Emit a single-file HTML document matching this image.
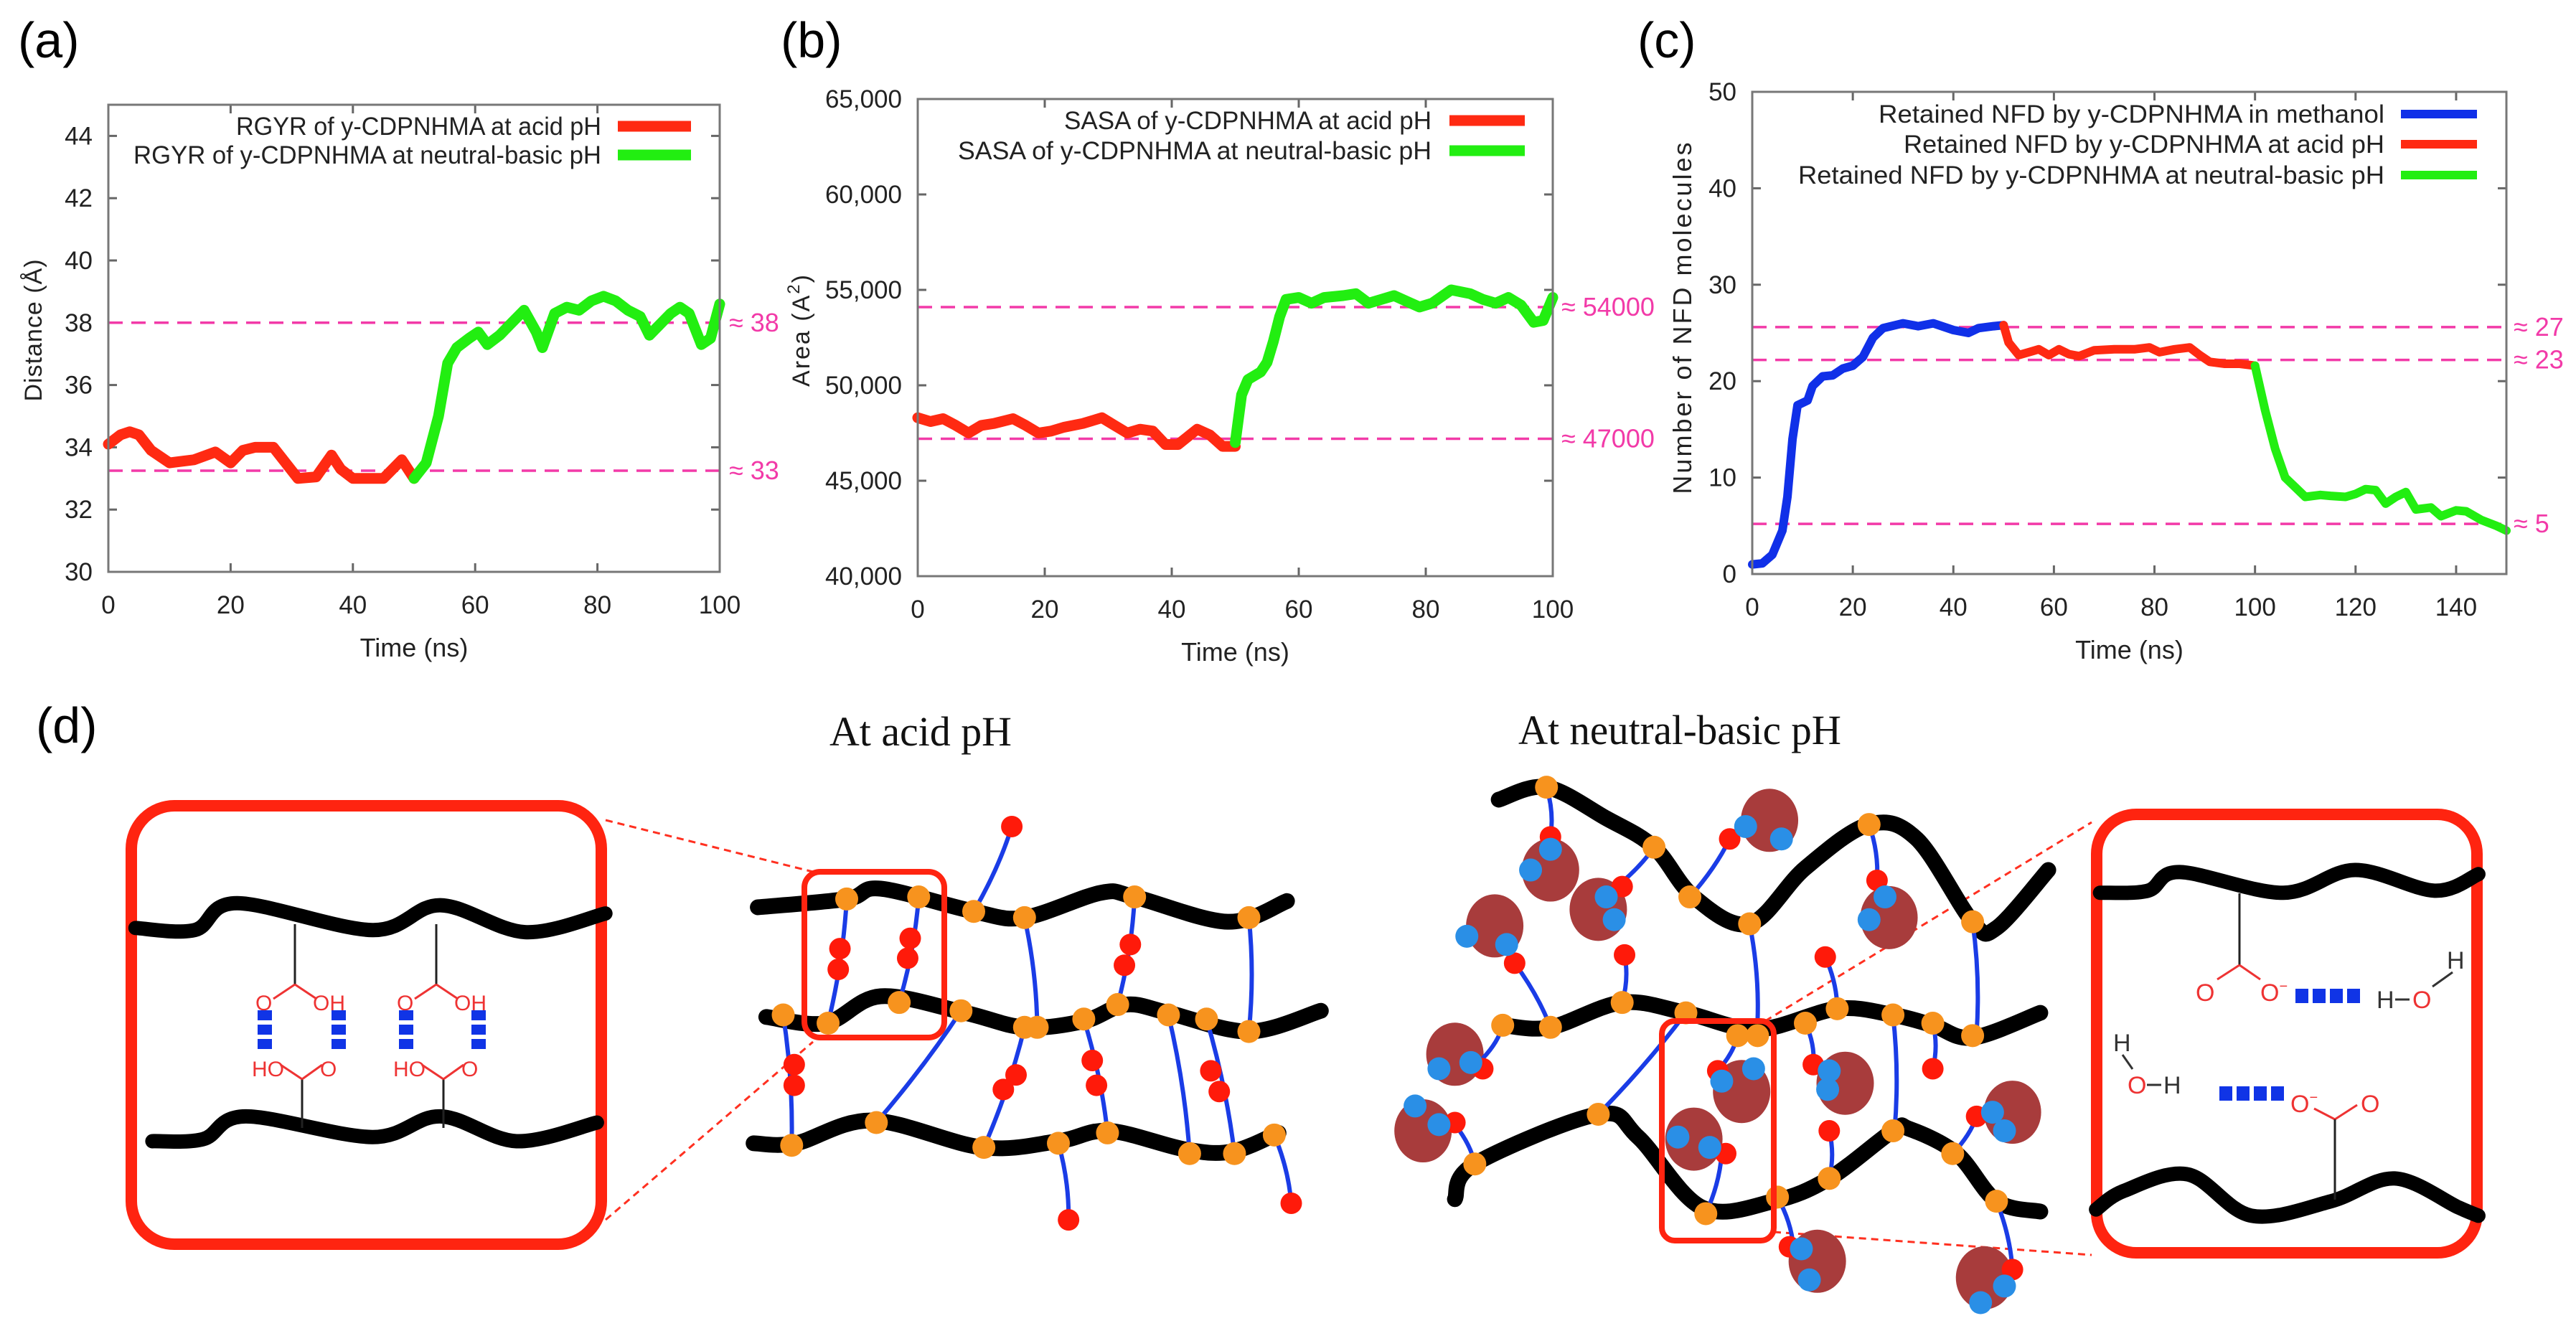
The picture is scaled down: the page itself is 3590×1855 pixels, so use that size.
<!DOCTYPE html>
<html><head><meta charset="utf-8"><style>
html,body{margin:0;padding:0;background:#fff}
svg{display:block}
text{font-family:"Liberation Sans",sans-serif}
</style></head><body>
<svg id="fig" width="3590" height="1855" viewBox="0 0 3590 1855" xmlns="http://www.w3.org/2000/svg">
<rect width="3590" height="1855" fill="#fff"/>
<text x="25" y="80" font-size="70">(a)</text>
<text x="1088" y="80" font-size="70">(b)</text>
<text x="2282" y="80" font-size="70">(c)</text>
<text x="50" y="1035" font-size="70">(d)</text>
<g id="charts"></g>
<g id="diagram"></g>
</svg>
<script>
// ---- Panel (a) data ----
const aRedT = [0,2,3.5,5,7,10,14,17.5,20,22,24,27,29,31,34,36.5,38,40,45,48,50];
const aRedV = [34.1,34.4,34.5,34.4,33.9,33.5,33.6,33.85,33.5,33.9,34.0,34.0,33.5,33.0,33.05,33.75,33.3,33.0,33.0,33.6,33.0];
const aGreenT = [50,52,54,55.5,57,59,60.5,62,64,66,68,70,71,73,75,77,79,81,83,85,87,88.5,90,92,93.5,95,97,98.5,100];
const aGreenV = [33.0,33.5,35.0,36.7,37.2,37.5,37.7,37.3,37.6,38.0,38.4,37.7,37.2,38.3,38.5,38.4,38.7,38.85,38.7,38.4,38.2,37.6,37.9,38.3,38.5,38.3,37.3,37.5,38.6];
const aXTicks = [0,20,40,60,80,100];
const aYTicks = [30,32,34,36,38,40,42,44];
const aRefs = [38,33.25];
const aRefLabels = ["≈ 38","≈ 33"];
const aLegend = ["RGYR of y-CDPNHMA at acid pH","RGYR of y-CDPNHMA at neutral-basic pH"];
// ---- Panel (b) data ----
const bRedT = [0,2,4,6,8,10,12,15,17,19,21,23,26,29,31,33,35,37,39,41,44,46,48,50];
const bRedV = [48300,48100,48250,47900,47500,47900,48000,48250,47900,47500,47600,47800,48000,48300,47900,47500,47700,47600,46900,46900,47700,47400,46800,46800];
const bGreenT = [50,51,52,54,55,56,57,58,60,62,64,67,69,71,73,75,77,79,81,84,87,89,91,93,95,97,98.5,100];
const bGreenV = [47000,49500,50300,50700,51200,52300,53600,54500,54600,54300,54600,54700,54800,54300,54500,54700,54400,54100,54300,55000,54800,54500,54300,54600,54200,53300,53400,54600];
const bXTicks = [0,20,40,60,80,100];
const bYTicks = [40000,45000,50000,55000,60000,65000];
const bRefs = [54100,47200];
const bRefLabels = ["≈ 54000","≈ 47000"];
const bLegend = ["SASA of y-CDPNHMA at acid pH","SASA of y-CDPNHMA at neutral-basic pH"];
// ---- Panel (c) data ----
const cBlueT = [0,2,4,6,7,8,9,11,12,14,16,18,20,22,24,26,30,33,36,40,43,45,48,50];
const cBlueV = [1,1.1,2,4.5,8,14,17.5,18,19.5,20.5,20.6,21.3,21.6,22.5,24.5,25.5,26,25.7,26,25.3,25,25.5,25.7,25.8];
const cRedT = [50,51,53,55,57,59,61,63,65,68,72,76,79,81,84,87,89,91,94,97,100];
const cRedV = [25.8,24,22.7,23,23.3,22.7,23.3,22.8,22.6,23.2,23.3,23.3,23.5,23,23.3,23.5,22.7,22,21.8,21.8,21.6];
const cGreenT = [100,102,104,106,108,110,113,115,118,120,122,124,126,128,130,132,135,137,140,142,145,148,150];
const cGreenV = [21.6,17,13,10,9,8,8.2,8.1,8,8.3,8.8,8.7,7.3,8,8.5,6.7,6.9,6,6.6,6.5,5.6,5,4.5];
const cXTicks = [0,20,40,60,80,100,120,140];
const cYTicks = [0,10,20,30,40,50];
const cRefs = [25.6,22.2,5.2];
const cRefLabels = ["≈ 27","≈ 23","≈ 5"];
const cLegend = ["Retained NFD by y-CDPNHMA in methanol","Retained NFD by y-CDPNHMA at acid pH","Retained NFD by y-CDPNHMA at neutral-basic pH"];

const NS="http://www.w3.org/2000/svg";
const RED="#ff2a12", GREEN="#22ee11", BLUE="#1030e8", PINK="#f23aa8";
function mk(tag,attrs,parent){const e=document.createElementNS(NS,tag);for(const k in attrs)e.setAttribute(k,attrs[k]);parent.appendChild(e);return e;}

function chart(id,box,xd,yd,xticks,yticks,fmt,series,refs,refLabels,legend,leg,ytitle,ytx,yty,refLabelX,lw){
  const root=document.getElementById('charts');
  const g=mk('g',{},root);
  
  
  const X=v=>box.l+(v-xd[0])/(xd[1]-xd[0])*(box.r-box.l);
  const Y=v=>box.b-(v-yd[0])/(yd[1]-yd[0])*(box.b-box.t);
  xticks.forEach(t=>{
    mk('line',{x1:X(t),x2:X(t),y1:box.b,y2:box.b-12,stroke:'#666','stroke-width':3},g);
    mk('line',{x1:X(t),x2:X(t),y1:box.t,y2:box.t+12,stroke:'#666','stroke-width':3},g);
    const tx=mk('text',{x:X(t),y:box.b+58,'font-size':35,'text-anchor':'middle',fill:'#222'},g);
    tx.textContent=t;
    
    
  });
  yticks.forEach(t=>{
    mk('line',{x1:box.l,x2:box.l+12,y1:Y(t),y2:Y(t),stroke:'#666','stroke-width':3},g);
    mk('line',{x1:box.r,x2:box.r-12,y1:Y(t),y2:Y(t),stroke:'#666','stroke-width':3},g);
    const tx=mk('text',{x:box.l-22,y:Y(t)+12,'font-size':35,'text-anchor':'end',fill:'#222'},g);
    tx.textContent=fmt(t);
    
    
  });
  refs.forEach((r,i)=>{
    const l=mk('line',{x1:box.l,x2:box.r,y1:Y(r),y2:Y(r),stroke:PINK,'stroke-width':3.5,'stroke-dasharray':'20 12'},g);
    
    
    const tx=mk('text',{x:refLabelX,y:Y(r)+12,'font-size':36,fill:PINK},g);
    tx.textContent=refLabels[i];
    
    
  });
  series.forEach(s=>{
    const d=s.t.map((t,i)=>(i?'L':'M')+X(t).toFixed(1)+','+Y(s.v[i]).toFixed(1)).join(' ');
    const p=mk('path',{d:d,fill:'none',stroke:s.c,'stroke-width':lw,'stroke-linejoin':'round','stroke-linecap':'round'},g);
    
    
  });
  const fr=mk('rect',{x:box.l,y:box.t,width:box.r-box.l,height:box.b-box.t,fill:'none',stroke:'#777','stroke-width':3},g);
  
  
  legend.forEach((txt,i)=>{
    const y=leg.y[i];
    const tx=mk('text',{x:leg.tr,y:y+12,'font-size':35,'text-anchor':'end',fill:'#222',textLength:leg.w[i],lengthAdjust:'spacingAndGlyphs'},g);
    tx.textContent=txt;
    
    
    const ln=mk('line',{x1:leg.l1,x2:leg.l2,y1:y,y2:y,stroke:series[i].c,'stroke-width':lw},g);
    
    
  });
  const tt=mk('text',{x:(box.l+box.r)/2,y:box.b+118,'font-size':36,'text-anchor':'middle',fill:'#222'},g);
  tt.textContent='Time (ns)';
  
  
  const yt=mk('text',{x:ytx,y:yty,'font-size':ytitle.fs,'text-anchor':'middle',fill:'#222',transform:`rotate(-90 ${ytx} ${yty})`,'letter-spacing':ytitle.ls},g);
  yt.innerHTML=ytitle.html;
  
  
}
chart('chart-a',{l:151,r:1003,t:146,b:797},[0,100],[30,45],aXTicks,aYTicks,v=>v,
  [{t:aRedT,v:aRedV,c:RED,name:'series-acid'},{t:aGreenT,v:aGreenV,c:GREEN,name:'series-neutral-basic'}],
  aRefs,aRefLabels,aLegend,{y:[176,216],tr:838,w:[509,652],l1:861,l2:963},
  {html:'Distance (Å)',fs:34,ls:1},58,460,1016,15);
chart('chart-b',{l:1279,r:2164,t:138,b:803},[0,100],[40000,65000],bXTicks,bYTicks,v=>v.toLocaleString('en-US'),
  [{t:bRedT,v:bRedV,c:RED,name:'series-acid'},{t:bGreenT,v:bGreenV,c:GREEN,name:'series-neutral-basic'}],
  bRefs,bRefLabels,bLegend,{y:[168,210],tr:1995,w:[512,660],l1:2020,l2:2125},
  {html:'Area (A<tspan dy="-14" font-size="24">2</tspan><tspan dy="14">)</tspan>',fs:34,ls:2},1128,460,2176,15);
chart('chart-c',{l:2442,r:3493,t:128,b:800},[0,150],[0,50],cXTicks,cYTicks,v=>v,
  [{t:cBlueT,v:cBlueV,c:BLUE,name:'series-methanol'},{t:cRedT,v:cRedV,c:RED,name:'series-acid'},{t:cGreenT,v:cGreenV,c:GREEN,name:'series-neutral-basic'}],
  cRefs,cRefLabels,cLegend,{y:[159,201,244],tr:3323,w:[705,670,817],l1:3346,l2:3452},
  {html:'Number of NFD molecules',fs:36,ls:3},2357,442,3503,12);

// ---- Diagram (d) ----
const D=document.getElementById('diagram');
function smooth(pts){let d='M'+pts[0][0]+','+pts[0][1];for(let i=0;i<pts.length-1;i++){const p0=pts[i-1]||pts[i],p1=pts[i],p2=pts[i+1],p3=pts[i+2]||p2;
 d+=` C${p1[0]+(p2[0]-p0[0])/6},${p1[1]+(p2[1]-p0[1])/6} ${p2[0]-(p3[0]-p1[0])/6},${p2[1]-(p3[1]-p1[1])/6} ${p2[0]},${p2[1]}`;}return d;}
function tf(ox,sx,oy,sy){return p=>[ox+p[0]*sx,oy+p[1]*sy];}
const A=tf(0,1.18,950,0.577), N=tf(1850,1.11,950,0.577);
function chain(pts,T,name,w){const p=mk('path',{d:smooth(pts.map(T)),fill:'none',stroke:'#000','stroke-width':w||22,'stroke-linecap':'round'},D);}
function link(a,b,T){const P=T(a),Q=T(b);const mx=(P[0]+Q[0])/2+8,my=(P[1]+Q[1])/2;mk('path',{d:`M${P[0]},${P[1]} Q${mx},${my} ${Q[0]},${Q[1]}`,fill:'none',stroke:'#1a3ce6','stroke-width':6},D);}
function dot(p,T,c,r,name){const P=T(p);const e=mk('circle',{cx:P[0],cy:P[1],r:r,fill:c},D);}
// titles
let t=mk('text',{x:1156,y:1039,'font-size':58,style:'font-family:"Liberation Serif",serif',fill:'#111',textLength:254,lengthAdjust:'spacingAndGlyphs'},D);t.textContent='At acid pH';


t=mk('text',{x:2116,y:1037,'font-size':58,style:'font-family:"Liberation Serif",serif',fill:'#111',textLength:450,lengthAdjust:'spacingAndGlyphs'},D);t.textContent='At neutral-basic pH';


// dashed zoom lines
[[844,1143,1133,1215],[844,1700,1133,1452],[2460,1423,2915,1146],[2472,1717,2915,1749]].forEach(l=>mk('line',{x1:l[0],y1:l[1],x2:l[2],y2:l[3],stroke:'#ff3020','stroke-width':3,'stroke-dasharray':'10 7'},D));
// acid network
chain([[895,545],[1000,525],[1040,500],[1150,555],[1210,570],[1300,510],[1340,520],[1450,580],[1520,530]],A,'acid-chain-top');
chain([[905,810],[975,825],[1040,760],[1140,800],[1210,835],[1280,820],[1330,780],[1380,800],[1475,845],[1560,795]],A,'acid-chain-middle');
chain([[890,1115],[940,1115],[1030,1060],[1160,1125],[1250,1110],[1310,1085],[1400,1130],[1455,1135],[1510,1090]],A,'acid-chain-bottom');
[[[1000,525],[978,825]],[[1085,520],[1062,775]],[[1150,555],[1195,350]],[[1210,570],[1225,835]],[[1340,520],[1320,780]],[[1475,570],[1475,845]],[[925,805],[935,1120]],[[1135,795],[1035,1065]],[[1210,835],[1162,1125]],[[1280,815],[1308,1090]],[[1380,805],[1405,1140]],[[1425,815],[1458,1140]],[[1250,1115],[1262,1300]],[[1505,1095],[1525,1260]]].forEach(l=>link(l[0],l[1],A));
[[1000,525],[1085,520],[1150,555],[1210,570],[1340,520],[1475,570],[925,805],[978,825],[1062,775],[1135,795],[1210,835],[1225,835],[1280,815],[1320,780],[1380,805],[1425,815],[1475,845],[935,1120],[1035,1065],[1162,1125],[1250,1115],[1308,1090],[1405,1140],[1458,1140],[1505,1095]].forEach(p=>dot(p,A,'#f7931e',16,'crosslink-node'));
[[992,645],[990,695],[1075,620],[1072,668],[1335,635],[1328,685],[938,925],[938,975],[1200,950],[1185,985],[1290,915],[1295,975],[1430,940],[1440,990],[1195,350],[1262,1300],[1525,1260]].forEach(p=>dot(p,A,'#ff1a0a',15,'carboxyl-group'));
let r=mk('rect',{x:1121,y:1215,width:195,height:231,rx:22,fill:'none',stroke:'#ff2410','stroke-width':8},D);


// neutral network
chain([[215,285],[275,255],[350,330],[410,400],[460,520],[530,585],[600,450],[680,345],[740,380],[810,580],[840,595],[905,455]],N,'basic-chain-top');
chain([[220,830],[280,835],[370,775],[450,800],[540,840],[640,790],[710,805],[760,830],[810,860],[895,800]],N,'basic-chain-middle');
chain([[160,1250],[185,1165],[340,1045],[390,1100],[470,1270],[560,1255],[630,1200],[710,1085],[730,1080],[790,1140],[840,1255],[895,1280]],N,'basic-chain-bottom');
[[120,1085],[280,455],[340,550],[555,335],[705,570],[210,590],[160,900],[520,990],[650,970],[460,1105],[860,1040],[615,1400],[825,1440]].forEach(p=>{const P=N(p);const e=mk('ellipse',{cx:P[0],cy:P[1],rx:40,ry:44,fill:'#a83c3c'},D);});
[[[275,255],[280,375]],[[410,400],[360,500]],[[455,520],[505,380]],[[530,585],[540,820]],[[680,345],[690,480]],[[810,580],[815,850]],[[280,835],[235,680]],[[370,775],[373,660]],[[450,800],[340,1045]],[[515,855],[490,940]],[[600,825],[610,925]],[[640,790],[625,665]],[[710,805],[712,1085]],[[760,825],[760,935]],[[220,830],[195,910]],[[185,1165],[160,1070]],[[475,1285],[495,1140]],[[630,1200],[630,1085]],[[785,1140],[815,1050]],[[565,1245],[585,1365]],[[840,1255],[860,1420]]].forEach(l=>link(l[0],l[1],N));
[[280,375],[370,495],[505,380],[690,480],[235,680],[373,660],[625,665],[195,935],[760,935],[490,940],[610,925],[160,1065],[500,1140],[630,1085],[815,1050],[580,1365],[860,1420]].forEach(p=>dot(p,N,'#ff1a0a',15,'carboxylate-group'));
[[255,455],[280,405],[350,520],[360,575],[525,350],[570,380],[700,520],[680,575],[175,615],[225,635],[140,935],[180,920],[535,935],[495,965],[630,940],[628,985],[110,1025],[140,1070],[480,1125],[440,1100],[835,1040],[850,1085],[595,1370],[605,1445],[850,1460],[820,1500]].forEach(p=>dot(p,N,'#2a8fe6',16,'hydrogen-atom'));
[[275,255],[410,400],[455,520],[530,585],[680,345],[810,580],[220,830],[280,835],[370,775],[450,800],[515,855],[540,855],[600,825],[640,790],[710,805],[760,825],[810,855],[340,1045],[185,1165],[475,1285],[565,1245],[630,1200],[710,1085],[785,1140],[840,1255]].forEach(p=>dot(p,N,'#f7931e',16,'crosslink-node'));
r=mk('rect',{x:2316,y:1423,width:156,height:306,rx:18,fill:'none',stroke:'#ff2410','stroke-width':8},D);


// left inset
r=mk('rect',{x:183,y:1123,width:655,height:611,rx:60,fill:'#fff',stroke:'#ff2410','stroke-width':16},D);


chain([[160,595],[230,600],[280,535],[440,600],[520,540],[620,605],[715,560]],A,'inset-chain-top',20);
chain([[180,1110],[240,1105],[290,1050],[440,1100],[520,1050],[610,1110],[705,1065]],A,'inset-chain-bottom',20);
function ln(x1,y1,x2,y2,c,w){mk('line',{x1,y1,x2,y2,stroke:c,'stroke-width':w},D);}
function tx(x,y,s,c,fs,name){const e=mk('text',{x,y,'font-size':fs,fill:c},D);e.innerHTML=s;}
[[411,369,472],[608,566,667]].forEach(g=>{
  const sx=g[0];
  ln(sx,1288,sx,1372,'#222',3); ln(sx+10,1504,sx+10,1572,'#222',3);
  ln(sx,1372,sx-30,1392,'#e33',3); ln(sx,1372,sx+30,1392,'#e33',3);
  ln(sx+10,1504,sx-20,1484,'#e33',3); ln(sx+10,1504,sx+38,1484,'#e33',3);
  tx(sx-55,1408,'O','#e33',30,'oxygen-label'); tx(sx+25,1408,'OH','#e33',30,'hydroxyl-label');
  tx(sx-60,1500,'HO','#e33',30,'hydroxyl-label'); tx(sx+35,1500,'O','#e33',30,'oxygen-label');
  [g[1],g[2]].forEach(x=>{for(let k=0;k<3;k++)mk('rect',{x:x-10,y:1408+k*20,width:20,height:14,fill:'#1034e6'},D);});
});
// right inset
r=mk('rect',{x:2922,y:1135,width:530,height:611,rx:55,fill:'#fff',stroke:'#ff2410','stroke-width':16},D);


chain([[970,510],[1030,505],[1070,460],[1200,510],[1290,455],[1390,505],[1445,465]],N,'inset-chain-top',20);
chain([[965,1275],[1000,1230],[1080,1190],[1160,1290],[1260,1255],[1340,1200],[1420,1270],[1445,1290]],N,'inset-chain-bottom',20);
ln(3121,1245,3121,1345,'#222',3); ln(3121,1345,3090,1365,'#e33',3); ln(3121,1345,3150,1365,'#e33',3);
tx(3060,1395,'O','#e33',34,'oxygen-label'); tx(3150,1395,'O<tspan dy="-14" font-size="20">−</tspan>','#e33',34,'carboxylate-label');
for(let k=0;k<4;k++)mk('rect',{x:3199+k*24,y:1378,width:18,height:20,fill:'#1034e6'},D);
tx(3312,1405,'H','#333',34,'hydrogen-label'); ln(3338,1393,3358,1393,'#333',3); tx(3362,1405,'O','#e33',34,'oxygen-label'); tx(3410,1350,'H','#333',34,'hydrogen-label'); ln(3418,1355,3390,1375,'#333',3);
tx(2945,1465,'H','#333',34,'hydrogen-label'); ln(2958,1470,2972,1490,'#333',3); tx(2965,1524,'O','#e33',34,'oxygen-label'); ln(2992,1512,3012,1512,'#333',3); tx(3015,1524,'H','#333',34,'hydrogen-label');
for(let k=0;k<4;k++)mk('rect',{x:3093+k*24,y:1514,width:18,height:20,fill:'#1034e6'},D);
tx(3192,1550,'O<tspan dy="-14" font-size="20">−</tspan>','#e33',34,'carboxylate-label'); tx(3290,1550,'O','#e33',34,'oxygen-label');
ln(3254,1560,3225,1545,'#e33',3); ln(3254,1560,3285,1540,'#e33',3); ln(3254,1560,3254,1672,'#222',3);
</script>
</body></html>
